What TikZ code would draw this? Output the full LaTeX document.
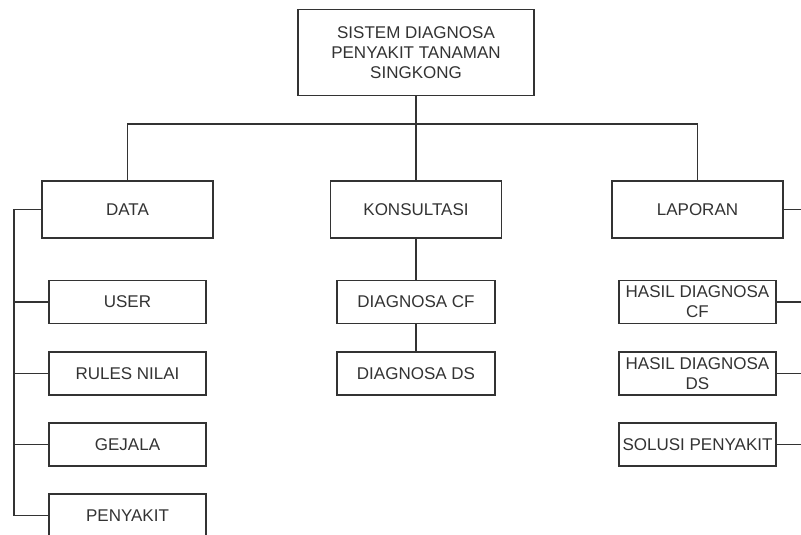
\documentclass[tikz,border=0pt]{standalone}
\usepackage{fontspec}
\setmainfont{Liberation Sans}
\definecolor{inkline}{HTML}{333333}
\definecolor{inktext}{HTML}{333333}
\begin{document}
\begin{tikzpicture}[x=1pt,y=-1pt,
  box/.style={draw=inkline,line width=1.3pt,fill=white,inner sep=0pt,align=center,
    text=inktext,font=\fontsize{17}{20}\selectfont},
  bigbox/.style={box,minimum width=171pt,minimum height=57pt},
  subbox/.style={box,minimum width=157pt,minimum height=43pt},
  link/.style={draw=inkline,line width=1.3pt}]
\useasboundingbox (0,0) rectangle (801,535);
\clip (0,0) rectangle (801,535);

% root
\node[box,minimum width=236pt,minimum height=86pt] (root) at (416,52.5)
  {SISTEM DIAGNOSA\\PENYAKIT TANAMAN\\SINGKONG};

% main branches
\node[bigbox] (data) at (127.5,209.5) {DATA};
\node[bigbox] (kons) at (416,209.5) {KONSULTASI};
\node[bigbox] (lap)  at (697.5,209.5) {LAPORAN};

% DATA children
\node[subbox] (user)  at (127.5,302)   {USER};
\node[subbox] (rules) at (127.5,373.5) {RULES NILAI};
\node[subbox] (gej)   at (127.5,444.5) {GEJALA};
\node[subbox] (peny)  at (127.5,515.5) {PENYAKIT};

% KONSULTASI children
\node[subbox,minimum width=158pt] (dcf) at (416,302)   {DIAGNOSA CF};
\node[subbox,minimum width=158pt] (dds) at (416,373.5) {DIAGNOSA DS};

% LAPORAN children
\node[subbox] (hcf) at (697.5,302)   {HASIL DIAGNOSA\\CF};
\node[subbox] (hds) at (697.5,373.5) {HASIL DIAGNOSA\\DS};
\node[subbox] (sol) at (697.5,444.5) {SOLUSI PENYAKIT};

% junctions
\coordinate (hub)  at (416,124);
\coordinate (lbus) at (14,0);
\coordinate (rbus) at (830,0);

% root to branches
\draw[link] (root) -- (hub);
\draw[link] (data.north) |- (hub) -| (lap.north);
\draw[link] (hub) -- (kons.north);

% DATA tree on the left bus
\draw[link] (data.west) -- (data.west -| lbus) -- (peny.west -| lbus) -- (peny.west);
\foreach \n in {user,rules,gej}
  \draw[link] (\n.west) -- (\n.west -| lbus);

% KONSULTASI chain
\draw[link] (kons) -- (dcf);
\draw[link] (dcf) -- (dds);

% LAPORAN tree on the right bus
\foreach \n in {lap,hcf,hds,sol}
  \draw[link] (\n.east) -- (\n.east -| rbus);
\end{tikzpicture}
\end{document}
